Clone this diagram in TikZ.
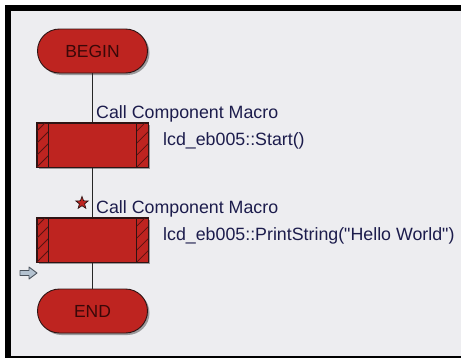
\documentclass[tikz,border=0pt]{standalone}
\usepackage{fontspec}
\setmainfont{Liberation Sans}[Ligatures=TeXOff]
\usetikzlibrary{calc,shadows,shapes.geometric}
\definecolor{bg}{HTML}{EDEDF0}
\definecolor{blockred}{HTML}{BE2420}
\definecolor{edgecol}{HTML}{2E1414}
\definecolor{hatchcol}{HTML}{5A1210}
\definecolor{labelblue}{HTML}{1C1C4C}
\definecolor{termtext}{HTML}{3A0808}
\definecolor{arrowfill}{HTML}{B4C2D0}
\definecolor{arrowedge}{HTML}{4A525C}
\begin{document}
\begin{tikzpicture}[x=1pt,y=-1pt,
  terminal/.style={rectangle, rounded corners=22pt, minimum width=110pt, minimum height=44pt,
    fill=blockred, draw=edgecol, line width=0.9pt, inner sep=0pt,
    font=\fontsize{17.5}{18}\selectfont, text=termtext,
    drop shadow={shadow xshift=2pt, shadow yshift=-2pt, opacity=0.35, fill=black}},
  macrobox/.style={rectangle, minimum width=111pt, minimum height=44pt,
    fill=blockred, draw=edgecol, line width=0.9pt, inner sep=0pt,
    drop shadow={shadow xshift=2pt, shadow yshift=-2pt, opacity=0.35, fill=black}},
  lbl/.style={anchor=base west, inner sep=0pt, text=labelblue, font=\fontsize{17.8}{18}\selectfont},
  flow/.style={draw=black!85, line width=0.8pt},
  hatchline/.style={draw=hatchcol, line width=0.8pt},
  divider/.style={draw=edgecol, line width=0.9pt}]
\useasboundingbox (0,0) rectangle (461,359);
% frame
\fill[white] (0,0) rectangle (461,359);
\fill[black] (5,5) rectangle (461,358);
\fill[bg] (11,11) rectangle (461,356);

% nodes
\node[terminal] (begin) at (92.5,51) {BEGIN};
\node[macrobox] (m1) at (92.5,145) {};
\node[macrobox] (m2) at (92.5,240) {};
\node[terminal] (end) at (92.5,311) {END};

% connectors
\draw[flow] (begin.south) -- (m1.north);
\draw[flow] (m1.south) -- (m2.north);
\draw[flow] (m2.south) -- (end.north);

% hatched strips
\foreach \b in {m1,m2}{
  \begin{scope}
    \clip (\b.north west) rectangle ($(\b.south west)+(12,0)$);
    \foreach \k in {0,...,6}
      \draw[hatchline] ($(\b.south west)+(0,{12-12*\k})$) -- ++(24,-24);
  \end{scope}
  \begin{scope}
    \clip ($(\b.north east)+(-12,0)$) rectangle (\b.south east);
    \foreach \k in {0,...,6}
      \draw[hatchline] ($(\b.south east)+(-12,{12-12*\k})$) -- ++(24,-24);
  \end{scope}
  \draw[divider] ($(\b.north west)+(12,0)$) -- ($(\b.south west)+(12,0)$);
  \draw[divider] ($(\b.north east)+(-12,0)$) -- ($(\b.south east)+(-12,0)$);
  \draw[edgecol, line width=0.9pt] (\b.north west) rectangle (\b.south east);
}

% labels
\node[lbl] (t1) at (96,118) {Call Component Macro};
\node[lbl] (d1) at (163,145) {lcd\_eb005::Start()};
\node[lbl] (t2) at (96,213) {Call Component Macro};
\node[lbl] (d2) at (163,240) {lcd\_eb005::PrintString("Hello World")};

% star marker
\node[star, star points=5, star point ratio=2.4, minimum size=13pt, inner sep=0pt,
  fill=blockred, draw=edgecol, line width=0.7pt] (star) at (82,203) {};

% current-position arrow
\coordinate (cur) at (29,273);
\draw[fill=arrowfill, draw=arrowedge, line width=0.9pt, line join=round]
  ($(cur)+(-9,-2.5)$) -- ($(cur)+(0,-2.5)$) -- ($(cur)+(0,-6)$) -- ($(cur)+(8,0)$)
  -- ($(cur)+(0,6)$) -- ($(cur)+(0,2.5)$) -- ($(cur)+(-9,2.5)$) -- cycle;
\end{tikzpicture}
\end{document}
